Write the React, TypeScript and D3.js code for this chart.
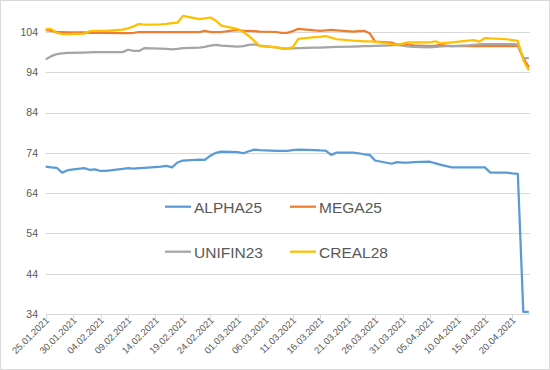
import { useEffect, useRef } from "react";
import * as d3 from "d3";

// trading days shown on the chart
const dates = [
  "25.01.2021", "26.01.2021", "27.01.2021", "28.01.2021", "29.01.2021",
  "01.02.2021", "02.02.2021", "03.02.2021", "04.02.2021", "05.02.2021",
  "08.02.2021", "09.02.2021", "10.02.2021", "11.02.2021", "12.02.2021",
  "15.02.2021", "16.02.2021", "17.02.2021", "18.02.2021", "19.02.2021",
  "22.02.2021", "23.02.2021", "24.02.2021", "25.02.2021", "26.02.2021",
  "01.03.2021", "02.03.2021", "03.03.2021", "04.03.2021", "05.03.2021",
  "08.03.2021", "09.03.2021", "10.03.2021", "11.03.2021", "12.03.2021",
  "15.03.2021", "16.03.2021", "17.03.2021", "18.03.2021", "19.03.2021",
  "22.03.2021", "23.03.2021", "24.03.2021", "25.03.2021", "26.03.2021",
  "29.03.2021", "30.03.2021", "31.03.2021", "01.04.2021", "02.04.2021",
  "05.04.2021", "06.04.2021", "07.04.2021", "08.04.2021", "09.04.2021",
  "12.04.2021", "13.04.2021", "14.04.2021", "15.04.2021", "16.04.2021",
  "19.04.2021", "20.04.2021", "21.04.2021", "22.04.2021", "23.04.2021",
];

const alpha25 = [
  70.6, 70.4, 70.3, 69.1, 69.7,
  70.2, 69.8, 69.9, 69.5, 69.5,
  70.0, 70.2, 70.1, 70.2, 70.3,
  70.6, 70.75, 70.4, 71.6, 72.1,
  72.3, 72.25, 73.3, 74.0, 74.3,
  74.2, 73.9, 74.4, 74.8, 74.7,
  74.5, 74.5, 74.5, 74.7, 74.8,
  74.7, 74.6, 74.55, 73.5, 74.05,
  74.05, 73.9, 73.65, 73.5, 72.1,
  71.3, 71.7, 71.6, 71.6, 71.7,
  71.8, 71.4, 71.0, 70.7, 70.4,
  70.4, 70.4, 70.4, 70.4, 69.1,
  69.1, 68.9, 68.8, 34.5, 34.5,
];

const mega25 = [
  104.5, 104.3, 104.0, 104.0, 103.9,
  103.9, 103.8, 103.8, 103.8, 103.8,
  103.7, 103.7, 103.8, 104.0, 104.0,
  104.0, 104.0, 104.0, 104.0, 104.0,
  104.0, 104.3, 104.0, 104.0, 104.0,
  104.5, 104.3, 104.3, 104.2, 104.1,
  104.0, 103.8, 103.8, 104.2, 104.8,
  104.4, 104.3, 104.4, 104.5, 104.4,
  104.1, 104.2, 104.3, 103.7, 101.6,
  101.35, 100.9, 100.9, 100.9, 100.7,
  100.5, 100.6, 100.8, 100.6, 100.5,
  100.5, 100.5, 100.5, 100.5, 100.5,
  100.5, 100.5, 100.6, 97.5, 95.3,
];

const unifin23 = [
  97.2, 98.0, 98.5, 98.7, 98.8,
  98.9, 98.95, 99.0, 99.0, 99.0,
  99.0, 99.6, 99.3, 99.3, 100.0,
  99.9, 99.8, 99.7, 99.8, 100.0,
  100.1, 100.3, 100.6, 100.8, 100.6,
  100.35, 100.5, 100.8, 100.9, 100.6,
  100.2, 99.9, 99.9, 99.95, 100.0,
  100.1, 100.15, 100.2, 100.25, 100.3,
  100.4, 100.45, 100.5, 100.5, 100.55,
  100.7, 100.8, 100.6, 100.4, 100.3,
  100.2, 100.3, 100.4, 100.5, 100.5,
  100.7, 100.8, 100.9, 101.0, 101.0,
  101.0, 101.0, 100.9, 97.5, 97.5,
];

const creal28 = [
  104.8, 104.7, 103.8, 103.5, 103.5,
  103.6, 104.2, 104.3, 104.3, 104.3,
  104.6, 104.9, 105.4, 106.0, 105.8,
  105.9, 106.0, 106.2, 106.3, 108.0,
  107.2, 107.4, 107.6, 106.8, 105.6,
  104.7, 104.0, 103.0, 101.8, 100.5,
  100.2, 100.0, 99.95, 100.2, 102.3,
  102.7, 102.8, 103.0, 102.6, 102.2,
  101.85, 101.8, 101.7, 101.7, 101.6,
  101.0, 100.85, 101.1, 101.45, 101.4,
  101.4, 101.7, 101.2, 101.3, 101.4,
  101.85, 102.0, 101.6, 102.5, 102.4,
  102.2, 102.0, 101.8, 97.0, 94.5,
];

const yTicks = [34, 44, 54, 64, 74, 84, 94, 104];

const series = [
  { name: "ALPHA25", values: alpha25, color: "#5b9bd5" },
  { name: "MEGA25", values: mega25, color: "#ed7d31" },
  { name: "UNIFIN23", values: unifin23, color: "#a5a5a5" },
  { name: "CREAL28", values: creal28, color: "#ffc000" },
];

export default function App() {
  const svgRef = useRef<SVGSVGElement>(null);

  useEffect(() => {
    if (!svgRef.current) return;
    const svg = d3.select(svgRef.current);
    svg.selectAll("*").remove();

    const parse = d3.utcParse("%d.%m.%Y");
    const fmt = d3.utcFormat("%d.%m.%Y");
    const days = dates.map((d) => parse(d) as Date);
    const start = days[0];
    const end = days[days.length - 1];

    const x = d3.scaleUtc().domain([start, end]).range([45.7, 528.8]);
    const y = d3.scaleLinear().domain([34, 104]).range([314, 32]);

    // chart border
    svg
      .append("rect")
      .attr("x", 0.5)
      .attr("y", 0.5)
      .attr("width", 549)
      .attr("height", 369)
      .attr("fill", "#fff")
      .attr("stroke", "#d9d9d9");

    // gridlines
    svg
      .selectAll(".grid")
      .data(yTicks)
      .enter()
      .append("line")
      .attr("x1", 45.7)
      .attr("x2", 530)
      .attr("y1", (d) => Math.round(y(d)) + 0.5)
      .attr("y2", (d) => Math.round(y(d)) + 0.5)
      .attr("stroke", "#d9d9d9");

    // y labels
    svg
      .selectAll(".ylab")
      .data(yTicks)
      .enter()
      .append("text")
      .attr("x", 38)
      .attr("y", (d) => y(d) + 3.8)
      .attr("text-anchor", "end")
      .attr("font-family", "Liberation Sans, Arial, sans-serif")
      .attr("font-size", 10.5)
      .attr("fill", "#595959")
      .text((d) => d);

    // x ticks every 5 days
    const ticks = d3.utcDay.range(start, d3.utcDay.offset(end, -2), 5);
    svg
      .selectAll(".xtick")
      .data(ticks)
      .enter()
      .append("line")
      .attr("x1", (d) => Math.round(x(d)) + 0.5)
      .attr("x2", (d) => Math.round(x(d)) + 0.5)
      .attr("y1", 314)
      .attr("y2", 319)
      .attr("stroke", "#d9d9d9");

    svg
      .selectAll(".xlab")
      .data(ticks)
      .enter()
      .append("text")
      .attr(
        "transform",
        (d) => `translate(${x(d) + 4},${321}) rotate(-45)`
      )
      .attr("text-anchor", "end")
      .attr("font-family", "Liberation Sans, Arial, sans-serif")
      .attr("font-size", 9.5)
      .attr("fill", "#595959")
      .text((d) => fmt(d));

    // lines
    const line = d3
      .line<number>()
      .x((_, i) => x(days[i]))
      .y((d) => y(d));

    series.forEach((s) => {
      svg
        .append("path")
        .attr("d", line(s.values))
        .attr("fill", "none")
        .attr("stroke", s.color)
        .attr("stroke-width", 2.25)
        .attr("stroke-linejoin", "round");
    });

    // legend
    const legendPos = [
      { lx: 165, ty: 212.7 },
      { lx: 290, ty: 212.7 },
      { lx: 165, ty: 257.7 },
      { lx: 290, ty: 257.7 },
    ];
    series.forEach((s, i) => {
      const p = legendPos[i];
      svg
        .append("line")
        .attr("x1", p.lx)
        .attr("x2", p.lx + 26)
        .attr("y1", p.ty - 6)
        .attr("y2", p.ty - 6)
        .attr("stroke", s.color)
        .attr("stroke-width", 2.25);
      svg
        .append("text")
        .attr("x", p.lx + 29)
        .attr("y", p.ty)
        .attr("font-family", "Liberation Sans, Arial, sans-serif")
        .attr("font-size", 15.5)
        .attr("fill", "#595959")
        .text(s.name);
    });
  }, []);

  return (
    <svg
      ref={svgRef}
      width={550}
      height={370}
      style={{ position: "absolute", left: 0, top: 0 }}
    />
  );
}
